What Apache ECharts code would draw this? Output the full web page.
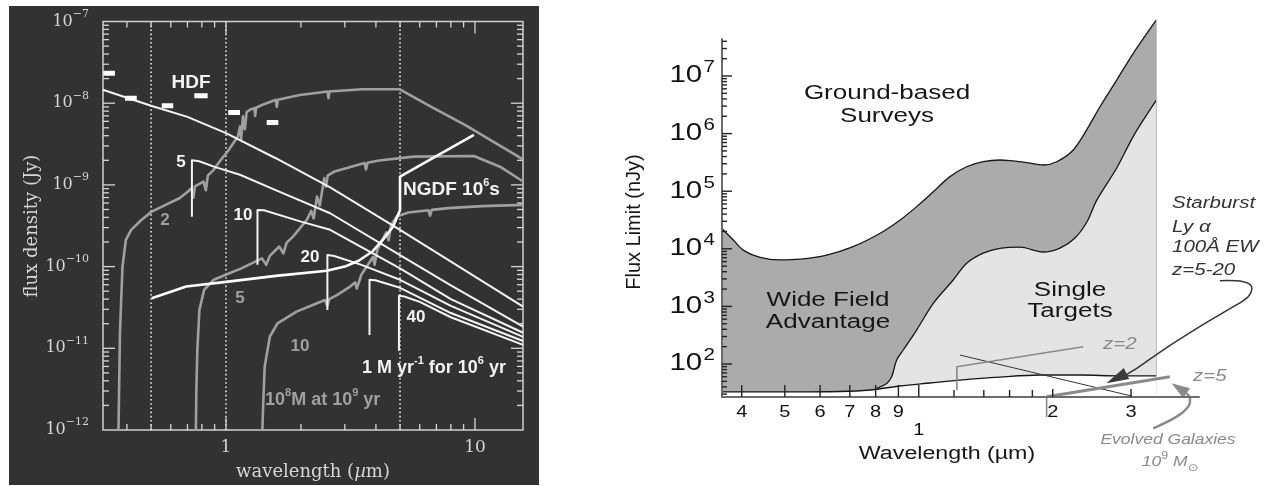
<!DOCTYPE html>
<html><head><meta charset="utf-8">
<script src="https://cdn.jsdelivr.net/npm/echarts@6/dist/echarts.min.js"></script>
<style>html,body{margin:0;padding:0;background:#fff}#c{width:1272px;height:486px}</style>
</head><body><div id="c"></div>
<script>
// ================= LEFT PANEL DATA (wavelength um, flux density Jy) =================
const hdfBarLo   = [0.3215, 0.393, 0.552, 0.746, 1.021, 1.457];
const hdfBarHi   = [0.358, 0.438, 0.614, 0.844, 1.138, 1.622];
const hdfBarFlux = [2.33e-8, 1.15e-8, 9.3e-9, 1.23e-8, 7.7e-9, 5.8e-9];
const dottedWavelengths = [0.5, 1, 5];

// starburst "1 Msun/yr for 1e6 yr" spectra at several redshifts
const sbZ0  = [[0.32,1.46e-8],[0.5,9.3e-9],[0.7,6.8e-9],[1.0,4.3e-9],[1.585,2.12e-9],[2.62,9.3e-10],[5.0,2.81e-10],[15.6,3.24e-11]];
const sbZ5  = [[0.7296,4.07e-10],[0.7296,2.0e-9],[0.78,1.95e-9],[0.9,1.66e-9],[1.138,1.33e-9],[1.6,8.5e-10],[2.62,4.5e-10],[5.0,1.38e-10],[8.0,5.9e-11],[15.6,1.84e-11]];
const sbZ10 = [[1.338,1.05e-10],[1.338,4.94e-10],[1.42,4.9e-10],[2.0,3.55e-10],[2.62,2.82e-10],[5.0,9.5e-11],[8.0,4.0e-11],[15.6,1.55e-11]];
const sbZ20 = [[2.554,2.95e-11],[2.554,1.39e-10],[2.72,1.35e-10],[3.5,1.05e-10],[5.0,6.9e-11],[8.0,3.3e-11],[15.6,1.38e-11]];
const sbZ30 = [[3.77,1.45e-11],[3.77,6.9e-11],[3.98,6.8e-11],[5.0,5.5e-11],[8.0,2.7e-11],[15.6,1.23e-11]];
const sbZ40 = [[4.95,9.3e-12],[4.95,4.4e-11],[5.2,4.3e-11],[6.0,3.7e-11],[8.0,2.4e-11],[15.6,1.1e-11]];

// NGDF 1e6 s sensitivity
const ngdf = [[0.503,4.1e-11],[0.692,5.7e-11],[1.0,6.5e-11],[1.585,7.7e-11],[2.54,8.9e-11],[3.0,1.0e-10],[3.41,1.18e-10],[3.87,1.53e-10],[4.26,2.12e-10],[4.69,3.1e-10],[5.0,4.94e-10],[5.0,1.26e-9],[9.9,4.1e-9]];

// 1e8 Msun galaxies at 1e9 yr, z = 2, 5, 10
const galZ2 = [[0.370,1e-12],[0.372,3e-12],[0.375,1.53e-11],[0.380,4.5e-11],[0.384,1.0e-10],[0.396,2.12e-10],[0.416,2.81e-10],[0.457,3.72e-10],[0.503,4.71e-10],[0.572,5.69e-10],[0.650,6.87e-10],[0.700,8.2e-10],[0.726,9.1e-10],[0.74,7.0e-10],[0.75,9.6e-10],[0.812,1.1e-9],[0.83,8.6e-10],[0.845,1.3e-9],[0.893,1.53e-9],[0.95,2.0e-9],[1.015,2.56e-9],[1.116,3.9e-9],[1.14,5.2e-9],[1.15,3.6e-9],[1.17,6.9e-9],[1.19,4.8e-9],[1.21,7.8e-9],[1.248,8.3e-9],[1.30,8.7e-9],[1.31,7.0e-9],[1.32,8.8e-9],[1.395,9.5e-9],[1.585,1.1e-8],[1.60,9.0e-9],[1.615,1.1e-8],[1.98,1.26e-8],[2.56,1.39e-8],[2.58,1.15e-8],[2.60,1.39e-8],[3.52,1.48e-8],[4.99,1.48e-8],[6.65,9.1e-9],[9.15,5.4e-9],[12.2,3.2e-9],[15.6,2.06e-9]];
const galZ5 = [[0.757,1e-12],[0.760,3e-12],[0.767,9.5e-12],[0.782,2.95e-11],[0.817,5.2e-11],[0.893,6.9e-11],[1.015,8.1e-11],[1.153,9.5e-11],[1.395,1.26e-10],[1.45,1.05e-10],[1.5,1.35e-10],[1.636,1.76e-10],[1.7,1.45e-10],[1.75,1.95e-10],[1.858,2.33e-10],[2.11,3.72e-10],[2.2,4.8e-10],[2.25,3.9e-10],[2.32,7.2e-10],[2.38,5.6e-10],[2.48,1.21e-9],[2.52,9.5e-10],[2.56,1.3e-9],[2.73,1.46e-9],[3.19,1.67e-9],[3.6,1.85e-9],[3.65,1.55e-9],[3.7,1.87e-9],[4.12,1.99e-9],[5.67,2.22e-9],[9.9,2.26e-9],[12.6,1.67e-9],[15.6,1.1e-9]];
const galZ10 = [[1.40,1e-12],[1.41,2e-12],[1.43,6e-12],[1.50,1.39e-11],[1.61,2.02e-11],[1.92,2.81e-11],[2.32,3.56e-11],[2.5,3.9e-11],[2.55,3.3e-11],[2.6,4.0e-11],[2.8,4.5e-11],[3.15,5.7e-11],[3.3,6.4e-11],[3.35,5.4e-11],[3.5,8.0e-11],[3.9,1.32e-10],[3.95,1.05e-10],[4.05,1.6e-10],[4.4,2.63e-10],[4.5,2.1e-10],[4.6,3.2e-10],[4.85,4.1e-10],[5.4,4.6e-10],[6.5,4.9e-10],[6.6,4.2e-10],[6.7,4.95e-10],[7.8,5.2e-10],[10.7,5.5e-10],[15.6,5.7e-10]];

const leftXMajorTicks = [1, 10];
const leftXMinorTicks = [0.4,0.5,0.6,0.7,0.8,0.9,2,3,4,5,6,7,8,9];
const leftYMajorTicks = [1e-11, 1e-10, 1e-9, 1e-8];

// ================= RIGHT PANEL DATA (wavelength um, flux limit nJy) =================
const groundLimit = [[0.3606,2.27e4],[0.383,1.42e4],[0.403,9.5e3],[0.44,7.1e3],[0.487,6.4e3],[0.541,6.6e3],[0.621,7.8e3],[0.712,1.09e4],[0.819,1.86e4],[0.908,3.16e4],[0.989,5.4e4],[1.078,9.8e4],[1.175,1.79e5],[1.281,2.66e5],[1.396,3.25e5],[1.522,3.48e5],[1.603,3.39e5],[1.748,3.13e5],[1.905,2.85e5],[2.042,3.25e5],[2.224,5.2e5],[2.384,1.16e6],[2.554,2.93e6],[2.785,8.5e6],[3.035,2.48e7],[3.42,9.4e7]];
const wideFieldLimit = [[0.804,37.8],[0.847,46],[0.869,60],[0.892,117],[0.923,175],[0.989,389],[1.078,1.13e3],[1.195,2.87e3],[1.281,5.6e3],[1.396,8.4e3],[1.522,1.02e4],[1.689,1.07e4],[1.9,8.8e3],[2.077,1.03e4],[2.244,1.54e4],[2.387,2.92e4],[2.512,7.0e4],[2.786,2.53e5],[3.048,9.5e5],[3.42,3.8e6]];
const singleTargetLimit = [[0.3606,32.7],[0.487,32.7],[0.665,33.3],[0.777,35.4],[0.907,41.5],[1.06,46.8],[1.238,52.7],[1.522,59.4],[1.873,64.4],[2.307,64.4],[2.83,62],[3.42,62]];
const regionEdge = [[3.42,62],[3.42,9.4e7]];
const thinModelLine = [[1.238,143],[3.008,27.8]];
const evolvedZ2 = [[1.218,35.4],[1.218,89.8],[2.343,200]];
const evolvedZ5Stem = [[1.938,12.0],[1.938,27]];
const evolvedZ5 = [[1.938,27],[3.668,60.3]];
const starburstArrow = [[4.75,2.79e3],[5.36,2.69e3],[5.60,2.2e3],[5.50,1.47e3],[5.09,988],[4.28,445],[3.54,175],[3.09,84],[2.89,62]];
const evolvedArrow = [[3.365,7.65],[3.80,12.2],[4.03,18.1],[4.07,25.4],[4.0,31]];
const arrowPaths = [starburstArrow, evolvedArrow];
const arrowHeads = [
  [[2.64,46.2],[2.97,55.1],[2.89,84.9]],
  [[3.70,46.2],[4.07,37.8],[3.93,25.4]]
];

const rightXTicks = [[0.4,12],[0.5,12],[0.6,12],[0.7,12],[0.8,12],[0.9,12],[1.0,12],[1.2,7],[1.4,7],[1.6,7],[1.8,7],[2,8],[3,8]];
const rightXLabelVals = [0.4,0.5,0.6,0.7,0.8,0.9,1,2,3];
const rightXLabelText = ['4','5','6','7','8','9','1','2','3'];
const rightYLabelVals = [1e2,1e3,1e4,1e5,1e6,1e7];

// ================= AXIS EXTENTS =================
const XL = {min: 0.3206, max: 15.59}, YL = {min: 1e-12, max: 1e-7};
const XR = {min: 0.3612, max: 4.264}, YR = {min: 26.74, max: 4.39e7};

const LIGHT = '#d6d6d6', WHITE = '#f3f3f3', GRAYL = '#a0a0a0', GRAYR = '#8a8a8a', DARK = '#161616';
const arrowColors = ['#333333', GRAYR];
const arrowWidths = [1.5, 2.4];
const arrowHeadColors = ['#3a3a3a', GRAYR];
const isDecade = v => { const l = Math.log10(v); return Math.abs(l - Math.round(l)) < 1e-6; };

// minor ticks for log axes (2..9 x decade)
function minorLog(lo, hi) {
  const out = [];
  for (let e = Math.floor(Math.log10(lo)); e <= Math.ceil(Math.log10(hi)); e++) {
    for (let m = 2; m <= 9; m++) { const v = m * Math.pow(10, e); if (v > lo && v < hi) out.push(v); }
  }
  return out;
}

function tickSeries(gi, X, Y, xTicks, yTicks, color, both, width) {
  const data = [];
  xTicks.forEach(t => data.push([t[0], Y.min, 0, t[1]]));
  yTicks.forEach(t => data.push([X.min, t[0], 1, t[1]]));
  return {
    type: 'custom', xAxisIndex: gi, yAxisIndex: gi, silent: true, clip: false, z: 30,
    dimensions: ['x', 'y', 'k', 'l'], encode: {x: 0, y: 1}, data,
    renderItem(params, api) {
      const k = api.value(2), len = api.value(3);
      const st = {stroke: color, lineWidth: width};
      const ch = [];
      if (k === 0) {
        const v = api.value(0);
        const a = api.coord([v, Y.min]);
        ch.push({type: 'line', shape: {x1: a[0], y1: a[1], x2: a[0], y2: a[1] - len}, style: st});
        if (both) { const b = api.coord([v, Y.max]); ch.push({type: 'line', shape: {x1: b[0], y1: b[1], x2: b[0], y2: b[1] + len}, style: st}); }
      } else {
        const v = api.value(1);
        const a = api.coord([X.min, v]);
        ch.push({type: 'line', shape: {x1: a[0], y1: a[1], x2: a[0] + len, y2: a[1]}, style: st});
        if (both) { const b = api.coord([X.max, v]); ch.push({type: 'line', shape: {x1: b[0], y1: b[1], x2: b[0] - len, y2: b[1]}, style: st}); }
      }
      return {type: 'group', children: ch};
    }
  };
}

function line(gi, data, color, width, extra) {
  return Object.assign({
    type: 'line', xAxisIndex: gi, yAxisIndex: gi, data, showSymbol: false, symbol: 'none',
    silent: true, lineStyle: {color, width, cap: 'butt', join: 'round'}, z: 5
  }, extra || {});
}

function T(x, y, text, o) {
  return {
    type: 'text', x, y, z: 100, silent: true, scaleX: o.sx || 1, rotation: o.rot || 0,
    style: {text, fill: o.fill, font: o.font, align: o.align || 'center', verticalAlign: 'middle', rich: o.rich}
  };
}
function supRich(fam, weight, size, supSize, fill, lh) {
  return {
    n: {fontFamily: fam, fontWeight: weight, fontSize: size, fill, lineHeight: lh},
    s: {fontFamily: fam, fontWeight: weight, fontSize: supSize, fill, verticalAlign: 'top'},
    i: {fontFamily: fam, fontWeight: weight, fontStyle: 'italic', fontSize: size, fill, lineHeight: lh},
    b: {fontFamily: '"DejaVu Sans"', fontWeight: weight, fontStyle: 'italic', fontSize: supSize, fill, verticalAlign: 'bottom'}
  };
}

const LS = '"Liberation Sans", "DejaVu Sans", sans-serif';
const series = [];

// ---- left panel series ----
dottedWavelengths.forEach(w => series.push(line(0, [[w, YL.min], [w, YL.max]], '#e6e6e6', 1.6, {lineStyle: {color: '#e6e6e6', width: 1.6, type: [1.6, 2.6]}, z: 3})));
[galZ2, galZ5, galZ10].forEach(g => series.push(line(0, g, GRAYL, 2.6, {z: 4})));
[sbZ0, sbZ5, sbZ10, sbZ20, sbZ30, sbZ40].forEach(s => series.push(line(0, s, WHITE, 2, {z: 5})));
series.push(line(0, ngdf, '#ffffff', 2.6, {z: 6}));
hdfBarLo.forEach((lo, i) => series.push(line(0, [[lo, hdfBarFlux[i]], [hdfBarHi[i], hdfBarFlux[i]]], '#ffffff', 5, {z: 7})));
series.push(tickSeries(0, XL, YL,
  leftXMajorTicks.map(v => [v, 12]).concat(leftXMinorTicks.map(v => [v, 6])),
  leftYMajorTicks.map(v => [v, 12]).concat(minorLog(YL.min, YL.max).map(v => [v, 6])),
  LIGHT, true, 1.3));

// ---- right panel series ----
series.push(line(1, groundLimit, DARK, 1.3, {areaStyle: {color: '#ababab', opacity: 1, origin: 'start'}, clip: false, z: 1, smooth: 0.3}));
series.push(line(1, wideFieldLimit, DARK, 1.3, {areaStyle: {color: '#e4e4e4', opacity: 1, origin: 'start'}, clip: false, z: 2, smooth: 0.3}));
series.push(line(1, singleTargetLimit, DARK, 1.3, {areaStyle: {color: '#ffffff', opacity: 1, origin: 'start'}, clip: false, z: 3, smooth: 0.3}));
series.push(line(1, regionEdge, '#bdbdbd', 1, {clip: false, z: 4}));
series.push(line(1, thinModelLine, '#333', 1, {z: 6}));
series.push(line(1, evolvedZ2, GRAYR, 1.6, {z: 6}));
series.push(line(1, evolvedZ5Stem, GRAYR, 1.6, {z: 6, clip: false}));
series.push(line(1, evolvedZ5, GRAYR, 3, {z: 6, clip: false}));
series.push({
  type: 'custom', xAxisIndex: 1, yAxisIndex: 1, silent: true, clip: false, z: 7,
  data: arrowPaths.map(p => p[p.length - 1]),
  renderItem(params, api) {
    const pts = arrowPaths[params.dataIndex].map(p => api.coord(p));
    return {type: 'polyline', shape: {points: pts, smooth: 0.35},
      style: {stroke: arrowColors[params.dataIndex], lineWidth: arrowWidths[params.dataIndex], fill: null}};
  }
});
series.push({
  type: 'custom', xAxisIndex: 1, yAxisIndex: 1, silent: true, clip: false, z: 8,
  data: arrowHeads.map(a => a[0]),
  renderItem(params, api) {
    const pts = arrowHeads[params.dataIndex].map(p => api.coord(p));
    return {type: 'polygon', shape: {points: pts}, style: {fill: arrowHeadColors[params.dataIndex]}};
  }
});
series.push(tickSeries(1, XR, YR, rightXTicks,
  rightYLabelVals.map(v => [v, 10]).concat(minorLog(YR.min, YR.max).map(v => [v, 5])),
  '#222', false, 1.4));
series.push({
  type: 'custom', xAxisIndex: 1, yAxisIndex: 1, silent: true, clip: false, z: 30,
  data: rightXLabelVals.map(v => [v, YR.min]),
  renderItem(params, api) {
    const t = rightXLabelText[params.dataIndex];
    const p = api.coord([api.value(0), YR.min]);
    return {type: 'text', x: p[0], y: p[1] + (t === '1' ? 34 : 16), scaleX: 1.25,
      style: {text: t, fill: '#111', font: '16px ' + LS, align: 'center', verticalAlign: 'middle'}};
  }
});
series.push({
  type: 'custom', xAxisIndex: 1, yAxisIndex: 1, silent: true, clip: false, z: 30,
  data: rightYLabelVals.map(v => [XR.min, v]),
  renderItem(params, api) {
    const v = api.value(1);
    const p = api.coord([XR.min, v]);
    return {type: 'group', x: p[0] - 7, y: p[1], scaleX: 1.28, children: [
      {type: 'text', x: -10, y: 0, style: {text: '10', fill: '#111', font: '23px ' + LS, align: 'right', verticalAlign: 'middle'}},
      {type: 'text', x: 0, y: -8, style: {text: String(Math.round(Math.log10(v))), fill: '#111', font: '16px ' + LS, align: 'right', verticalAlign: 'middle'}}
    ]};
  }
});

// ---- texts ----
const boldW = supRich(LS, 'bold', 18, 11, WHITE, 26);
const boldG = supRich(LS, 'bold', 18, 11, GRAYL, 26);
const serifRich = supRich('"DejaVu Serif"', 'normal', 18, 11, LIGHT, 22);
const texts = [
  {type: 'rect', shape: {x: 9, y: 6, width: 530, height: 479}, style: {fill: '#323232'}, z: -100, silent: true},
  T(191, 83, 'HDF', {font: 'bold 19px ' + LS, fill: WHITE}),
  T(181, 162, '5', {font: 'bold 17px ' + LS, fill: WHITE}),
  T(165, 220, '2', {font: 'bold 17px ' + LS, fill: GRAYL}),
  T(243, 215, '10', {font: 'bold 17px ' + LS, fill: WHITE}),
  T(240, 298, '5', {font: 'bold 17px ' + LS, fill: GRAYL}),
  T(310, 257, '20', {font: 'bold 17px ' + LS, fill: WHITE}),
  T(300, 346, '10', {font: 'bold 17px ' + LS, fill: GRAYL}),
  T(416, 317, '40', {font: 'bold 17px ' + LS, fill: WHITE}),
  T(403, 190, '{n|NGDF 10}{s|6}{n|s}', {align: 'left', rich: supRich(LS, 'bold', 19, 11, WHITE, 26)}),
  T(362, 368, '{n|1 M yr}{s|-1}{n| for 10}{s|6}{n| yr}', {align: 'left', rich: boldW}),
  T(265, 400, '{n|10}{s|8}{n|M at 10}{s|9}{n| yr}', {align: 'left', rich: boldG}),
  T(32, 226, 'flux density (Jy)', {font: '18px "DejaVu Serif"', fill: LIGHT, rot: Math.PI / 2}),
  T(313, 472, '{n|wavelength (}{i|µ}{n|m)}', {rich: serifRich}),
  // right panel
  T(887, 93, 'Ground-based', {font: '20px ' + LS, fill: DARK, sx: 1.3}),
  T(887, 116, 'Surveys', {font: '20px ' + LS, fill: DARK, sx: 1.3}),
  T(828, 300, 'Wide Field', {font: '20px ' + LS, fill: DARK, sx: 1.3}),
  T(828, 322, 'Advantage', {font: '20px ' + LS, fill: DARK, sx: 1.3}),
  T(1070, 290, 'Single', {font: '20px ' + LS, fill: DARK, sx: 1.3}),
  T(1070, 311, 'Targets', {font: '20px ' + LS, fill: DARK, sx: 1.3}),
  T(1172, 204, 'Starburst', {font: 'italic 16px ' + LS, fill: '#333', sx: 1.28, align: 'left'}),
  T(1172, 228, 'Ly α', {font: 'italic 16px ' + LS, fill: '#333', sx: 1.28, align: 'left'}),
  T(1172, 248, '100Å EW', {font: 'italic 16px ' + LS, fill: '#333', sx: 1.28, align: 'left'}),
  T(1172, 271, 'z=5-20', {font: 'italic 16px ' + LS, fill: '#333', sx: 1.28, align: 'left'}),
  T(1103, 345, 'z=2', {font: 'italic 16px ' + LS, fill: GRAYR, sx: 1.28, align: 'left'}),
  T(1193, 377, 'z=5', {font: 'italic 16px ' + LS, fill: GRAYR, sx: 1.28, align: 'left'}),
  T(1168, 440, 'Evolved Galaxies', {font: 'italic 14px ' + LS, fill: GRAYR, sx: 1.25}),
  T(1170, 462, '{i|10}{s|9}{i| M}{b|⊙}', {sx: 1.25, rich: supRich(LS, 'normal', 14, 10, GRAYR, 22)}),
  T(634, 222, 'Flux Limit (nJy)', {font: '20px ' + LS, fill: DARK, rot: Math.PI / 2}),
  T(947, 454, 'Wavelength (µm)', {font: '18px ' + LS, fill: DARK, sx: 1.29})
];

const option = {
  animation: false,
  backgroundColor: '#ffffff',
  grid: [
    {left: 103, top: 21.5, width: 420, height: 408.5, show: true, borderColor: '#d0d0d0', borderWidth: 1.5, backgroundColor: 'transparent', containLabel: false, outerBoundsMode: 'none'},
    {left: 722, top: 39, width: 477, height: 358, show: false, containLabel: false, outerBoundsMode: 'none'}
  ],
  xAxis: [
    {gridIndex: 0, type: 'log', logBase: 10, min: XL.min, max: XL.max,
      axisLine: {show: false}, axisTick: {show: false}, splitLine: {show: false},
      axisLabel: {margin: 9, color: LIGHT, fontFamily: 'DejaVu Serif', fontSize: 17,
        formatter: v => isDecade(v) ? String(Math.round(v)) : ''}},
    {gridIndex: 1, type: 'log', logBase: 10, min: XR.min, max: XR.max, z: 20,
      axisLine: {show: true, onZero: false, lineStyle: {color: '#6c6c6c', width: 2}},
      axisTick: {show: false}, axisLabel: {show: false}, splitLine: {show: false}}
  ],
  yAxis: [
    {gridIndex: 0, type: 'log', logBase: 10, min: YL.min, max: YL.max,
      axisLine: {show: false}, axisTick: {show: false}, splitLine: {show: false},
      axisLabel: {margin: 14,
        formatter: v => { if (!isDecade(v)) return ''; const e = Math.round(Math.log10(v)); return '{b|10}{s|' + (e < 0 ? '\u2212' + (-e) : e) + '}'; },
        rich: {b: {fontFamily: 'DejaVu Serif', fontSize: 16, color: LIGHT, lineHeight: 26},
               s: {fontFamily: 'DejaVu Serif', fontSize: 11, color: LIGHT, verticalAlign: 'top'}}}},
    {gridIndex: 1, type: 'log', logBase: 10, min: YR.min, max: YR.max, z: 20,
      axisLine: {show: true, onZero: false, lineStyle: {color: '#6c6c6c', width: 2}},
      axisTick: {show: false}, axisLabel: {show: false}, splitLine: {show: false}}
  ],
  graphic: {elements: texts},
  series
};

const chart = echarts.init(document.getElementById('c'), null, {renderer: 'canvas'});
chart.setOption(option);
</script></body></html>
